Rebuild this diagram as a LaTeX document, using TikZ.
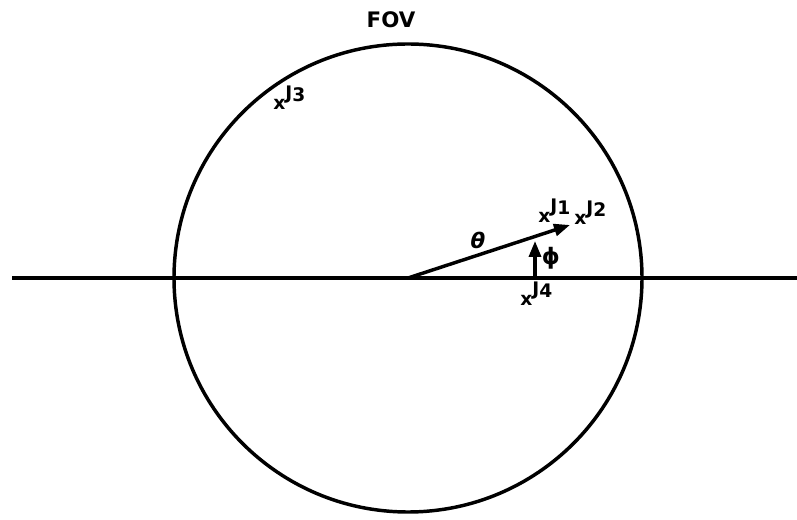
\documentclass[tikz,border=0pt]{standalone}
\usepackage{fontspec}
\setmainfont{DejaVu Sans}
\usetikzlibrary{arrows.meta}
\tikzset{
  heavy/.style={line width=2.6pt},
  lbl/.style={font=\fontsize{14}{14}\selectfont\bfseries, inner sep=0pt},
  arr/.style={heavy, -{Triangle[length=12pt,width=9pt]}}
}
\begin{document}
\begin{tikzpicture}[x=0.75pt,y=-0.75pt]
\useasboundingbox (0,0) rectangle (797,520);
\coordinate (c) at (408,278);
\coordinate (L) at (12,278);
\coordinate (R) at (797,278);
\draw[heavy] (c) circle[radius=175.5pt];
\draw[line width=2.3pt] (L) -- (R);
\coordinate (tip) at (570,225);
\draw[arr] (c) -- (tip);
\coordinate (pb) at (535,278);
\coordinate (pt) at (535,241);
\draw[arr] (pb) -- (pt);
\node[lbl, font=\fontsize{16}{16}\selectfont\bfseries] (fov) at (391,20) {FOV};
\node[lbl, font=\fontsize{16}{16}\selectfont\bfseries\itshape] (theta) at (478,240) {θ};
\node[lbl, font=\fontsize{17}{17}\selectfont\bfseries] (phi) at (551,258) {ϕ};
\node[lbl, anchor=base west] (x1) at (538,223) {x\raisebox{8pt}{J\raisebox{-2pt}{1}}};
\node[lbl, anchor=base west] (x2) at (574,225) {x\raisebox{8pt}{J\raisebox{-2pt}{2}}};
\node[lbl, anchor=base west] (x3) at (273,110) {x\raisebox{8pt}{J\raisebox{-2pt}{3}}};
\node[lbl, anchor=base west] (x4) at (520,306) {x\raisebox{8pt}{J\raisebox{-2pt}{4}}};
\end{tikzpicture}
\end{document}
